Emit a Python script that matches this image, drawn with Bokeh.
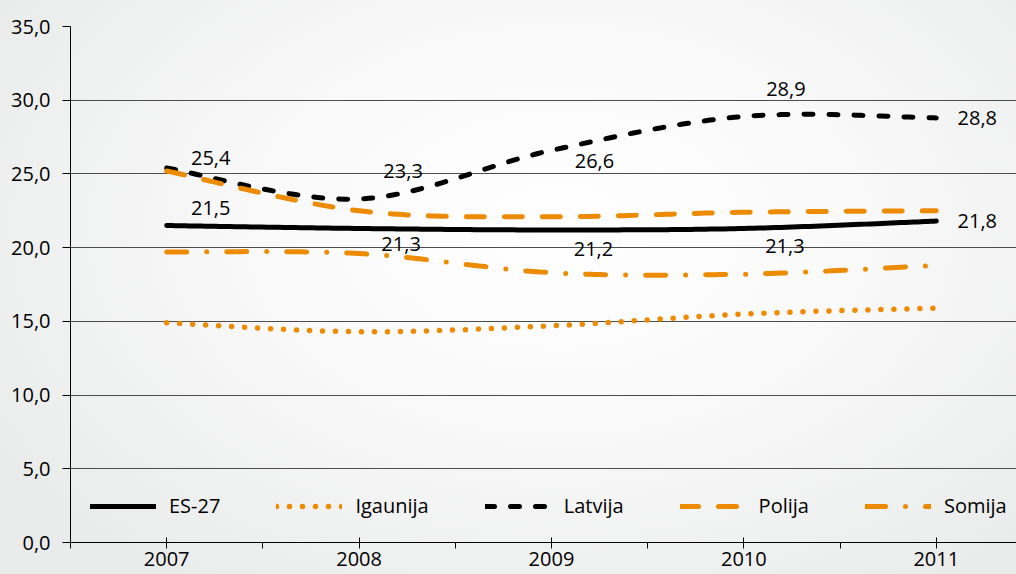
import numpy as np
from bokeh.plotting import figure
from bokeh.models import FixedTicker, Legend, LegendItem, ColumnDataSource, Range1d
from bokeh.core.properties import value
from bokeh.embed import file_html
from bokeh.resources import INLINE

# ---- data ----
years = ["2007", "2008", "2009", "2010", "2011"]
es27 = [21.5, 21.3, 21.2, 21.3, 21.8]
igaunija = [14.9, 14.3, 14.7, 15.5, 15.9]
latvija = [25.4, 23.3, 26.6, 28.9, 28.8]
polija = [25.2, 22.5, 22.1, 22.4, 22.5]
somija = [19.7, 19.6, 18.3, 18.2, 18.8]
series_names = ["ES-27", "Igaunija", "Latvija", "Polija", "Somija"]
y_ticks = [0, 5, 10, 15, 20, 25, 30, 35]
y_tick_labels = ["0,0", "5,0", "10,0", "15,0", "20,0", "25,0", "30,0", "35,0"]

# ---- styling (label offsets in screen px) ----
lat_dx = [44, 44, 43, 42, 41]
lat_dy = [-10, -28, 11, -27, 0]
es_dx = [44, 42, 42, 41, 41]
es_dy = [-18, 16, 19, 18, 0]

FONT = "Open Sans"
ORANGE = "#ec8b00"
TEXT = "#000000"


def smooth(ys, n=40):
    """Excel-like smoothed line (Catmull-Rom as cubic Bezier)."""
    x = np.arange(len(ys), dtype=float)
    y = np.asarray(ys, dtype=float)
    P = np.column_stack([x, y])
    P = np.vstack([P[0], P, P[-1]])
    xs, yv = [], []
    m = len(ys) - 1
    for i in range(m):
        p0, p1, p2, p3 = P[i], P[i + 1], P[i + 2], P[i + 3]
        c1 = p1 + (p2 - p0) / 6.0
        c2 = p2 - (p3 - p1) / 6.0
        t = np.linspace(0, 1, n, endpoint=(i == m - 1))[:, None]
        b = ((1 - t) ** 3) * p1 + 3 * ((1 - t) ** 2) * t * c1 + 3 * (1 - t) * t ** 2 * c2 + t ** 3 * p2
        xs.extend(b[:, 0].tolist())
        yv.extend(b[:, 1].tolist())
    return xs, yv


p = figure(width=1016, height=574, output_backend="svg", toolbar_location=None,
           x_range=Range1d(-0.5, 4.417), y_range=Range1d(0, 35),
           min_border_left=70, min_border_top=26, min_border_right=0, min_border_bottom=32)

p.styles = {"background": "radial-gradient(ellipse 65% 75% at 55% 40%, #ffffff 0%, #f9f9f9 45%, #eaebeb 100%)"}
p.border_fill_alpha = 0
p.background_fill_alpha = 0
p.outline_line_color = None

# axes
p.yaxis.ticker = FixedTicker(ticks=y_ticks)
p.yaxis.major_label_overrides = {t: l for t, l in zip(y_ticks, y_tick_labels)}
p.yaxis.major_tick_out = 8
p.yaxis.major_tick_in = 0
p.yaxis.minor_tick_out = 0
p.yaxis.minor_tick_in = 0
p.yaxis.major_label_standoff = 12
p.yaxis.axis_line_color = "black"
p.yaxis.major_tick_line_color = "black"

p.xaxis.ticker = FixedTicker(ticks=list(range(len(years))),
                             minor_ticks=[i - 0.5 for i in range(len(years) + 1)])
p.xaxis.major_label_overrides = {i: y for i, y in enumerate(years)}
p.xaxis.major_tick_in = 5
p.xaxis.major_tick_out = 6
p.xaxis.minor_tick_in = 0
p.xaxis.minor_tick_out = 6
p.xaxis.minor_tick_line_color = "black"
p.xaxis.major_label_standoff = 3
p.xaxis.axis_line_color = "black"

for ax in (p.xaxis, p.yaxis):
    ax.major_label_text_font = FONT
    ax.major_label_text_font_size = "20px"
    ax.major_label_text_color = TEXT

p.xgrid.grid_line_color = None
p.ygrid.ticker = FixedTicker(ticks=y_ticks)
p.ygrid.grid_line_color = "#4d4d4d"
p.ygrid.grid_line_width = 1

# lines
styles = [
    dict(line_color="black", line_width=5, line_dash="solid"),
    dict(line_color=ORANGE, line_width=5.5, line_dash="0 13"),
    dict(line_color="black", line_width=5, line_dash="9 16"),
    dict(line_color=ORANGE, line_width=5, line_dash="18 20"),
    dict(line_color=ORANGE, line_width=5, line_dash="20 20 0 20"),
]
items = []
for name, vals, st in zip(series_names, [es27, igaunija, latvija, polija, somija], styles):
    xs, ys = smooth(vals)
    r = p.line(xs, ys, line_cap="round", line_join="round", **st)
    items.append(LegendItem(label=name, renderers=[r]))

# data labels
def fmt(v):
    return f"{v:.1f}".replace(".", ",")

lab_src = ColumnDataSource(dict(
    x=list(range(len(years))) * 2,
    y=latvija + es27,
    t=[fmt(v) for v in latvija + es27],
    dx=lat_dx + es_dx,
    dy=lat_dy + es_dy,
))
p.text(x="x", y="y", text="t", x_offset="dx", y_offset="dy", source=lab_src,
       text_font=value(FONT), text_font_size=value("20px"), text_color=TEXT,
       text_align="center", text_baseline="middle")

legend = Legend(items=items, location=(20, 23), orientation="horizontal",
                border_line_color=None, background_fill_alpha=0,
                padding=0, margin=0, spacing=56, glyph_width=66, glyph_height=20,
                label_standoff=13, label_height=20,
                label_text_font=FONT, label_text_font_size="20px", label_text_color=TEXT)
p.add_layout(legend, "center")

open("out.html", "w").write(file_html(p, INLINE))
